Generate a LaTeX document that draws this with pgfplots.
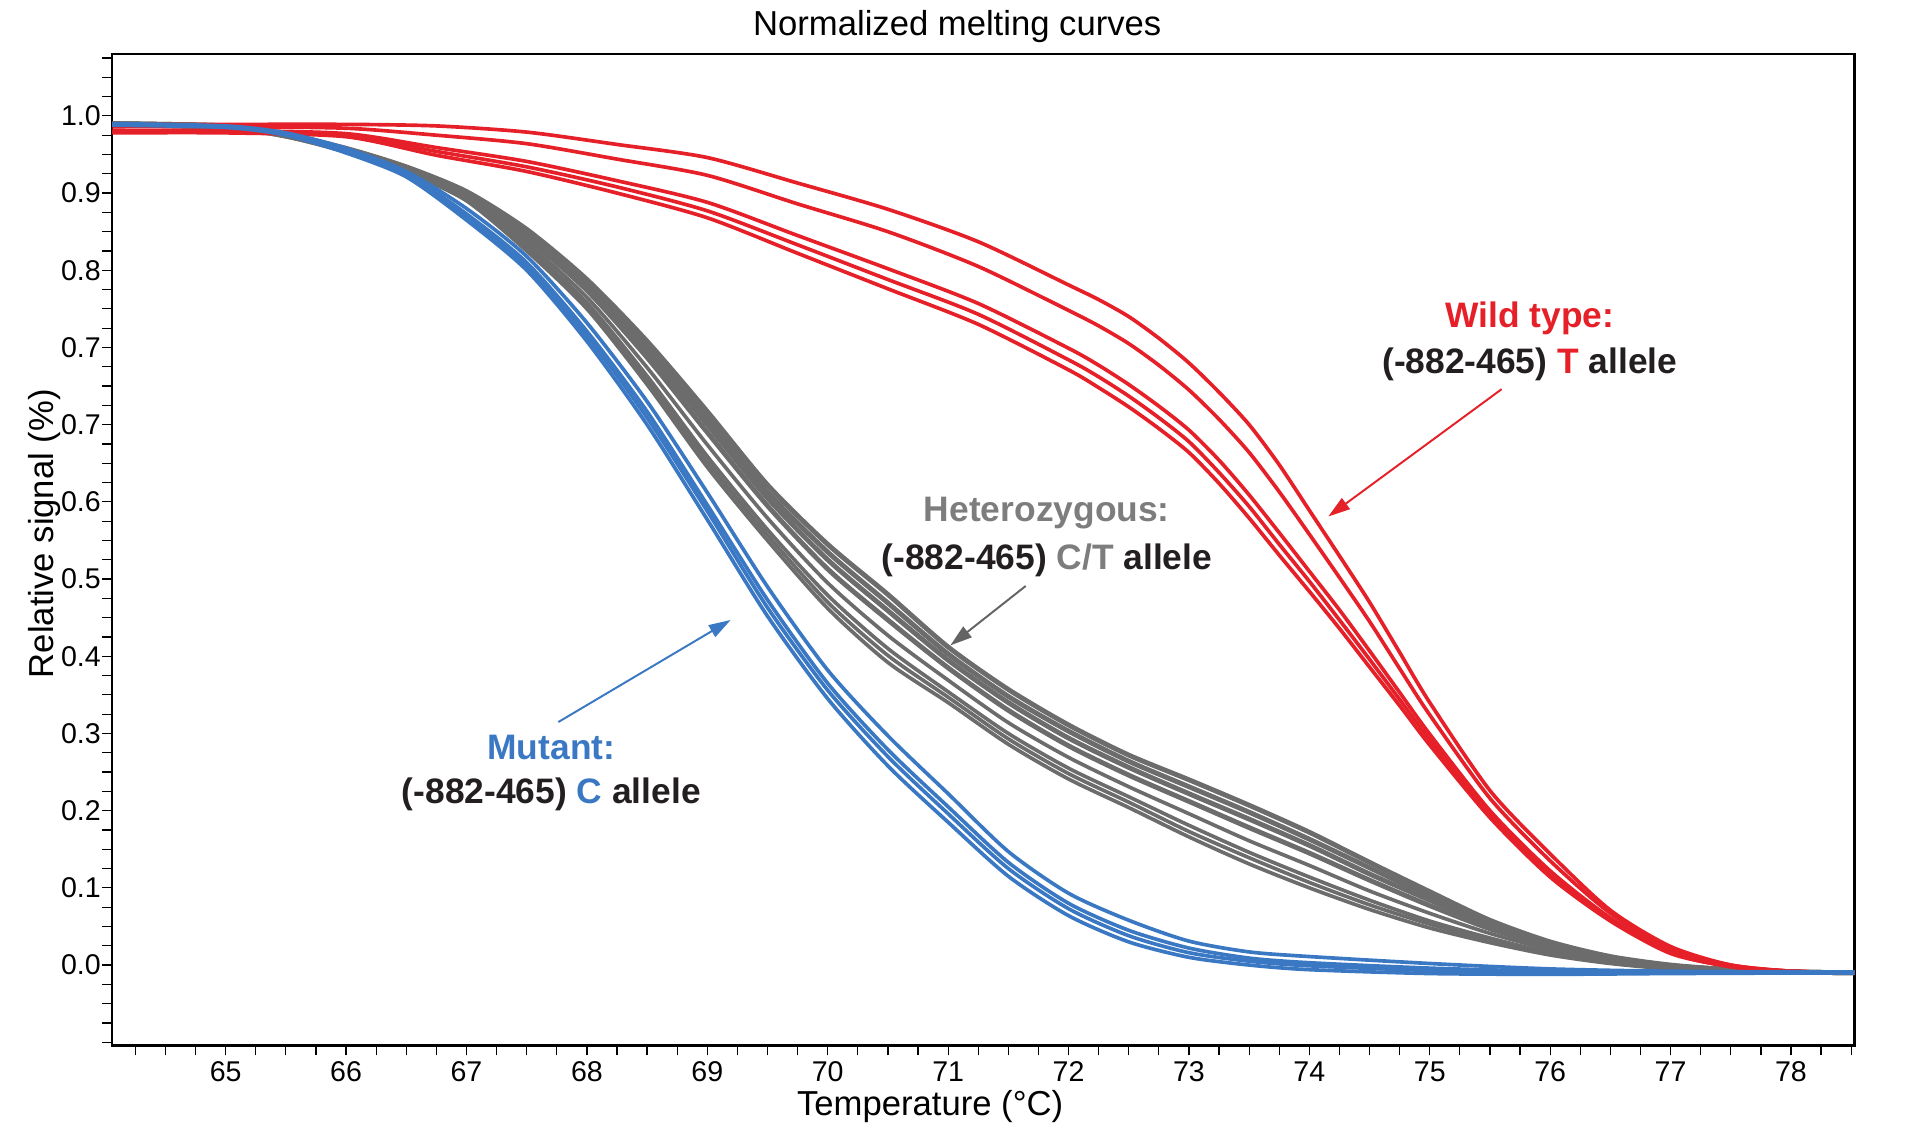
\documentclass[border=0pt]{standalone}
\usepackage{fontspec}
\setmainfont{Liberation Sans}
\usepackage{pgfplots}
\pgfplotsset{compat=1.18}
\usetikzlibrary{arrows.meta}
\definecolor{wtred}{RGB}{230,32,40}
\definecolor{hetgray}{RGB}{108,108,108}
\definecolor{hettext}{RGB}{125,125,125}
\definecolor{hetarrow}{RGB}{100,100,100}
\definecolor{mutblue}{RGB}{58,120,195}
\definecolor{txt}{RGB}{35,31,32}
\pgfplotsset{
  wt/.style={color=wtred, line width=1.5pt, smooth, tension=0.45, no markers, line join=round},
  het/.style={color=hetgray, line width=1.5pt, smooth, tension=0.45, no markers, line join=round},
  hetd/.style={color=hetgray, line width=2pt, smooth, tension=0.45, no markers, line join=round},
  mut/.style={color=mutblue, line width=1.5pt, smooth, tension=0.45, no markers, line join=round},
}
\tikzset{annot/.style={anchor=base, font=\bfseries\fontsize{14.5}{17}\selectfont}}
\begin{document}
\begin{tikzpicture}
\begin{axis}[
  at={(0,0)}, anchor=south west,
  width=714pt, height=406.5pt, scale only axis,
  xmin=64.058, xmax=78.527, ymin=-0.1043, ymax=1.1806,
  xtick={65,66,67,68,69,70,71,72,73,74,75,76,77,78},
  minor xtick={64.25,64.5,...,78.5},
  ytick={0,0.1,0.2,0.3,0.4,0.5,0.6,0.7,0.8,0.9,1.0,1.1},
  yticklabels={0.0,0.1,0.2,0.3,0.4,0.5,0.6,0.7,0.7,0.8,0.9,1.0},
  minor ytick={-0.1,-0.075,...,1.176},
  tick align=outside, tick pos=left,
  major tick length=4pt, minor tick length=4pt,
  every tick/.style={black, line width=0.5pt},
  axis line style={black, line width=0.9pt},
  ticklabel style={font=\fontsize{11.7}{13}\selectfont, text=black},
  /pgf/number format/assume math mode=true,
  xticklabel style={inner ysep=2.5pt},
  yticklabel style={inner xsep=0.5pt},
  clip=true,
]
% ---------- Heterozygous (C/T) ----------
\addplot[hetd] coordinates {(64.06,1.090)(65.0,1.087)(65.5,1.076)(66.0,1.058)(66.5,1.034)(67.0,1.002)(67.5,0.953)(68.0,0.888)(68.5,0.808)(69.0,0.717)(69.5,0.622)(70.0,0.545)(70.5,0.480)(71.0,0.412)(71.5,0.357)(72.0,0.311)(72.5,0.272)(73.0,0.240)(73.5,0.207)(74.0,0.172)(74.5,0.133)(75.0,0.095)(75.5,0.058)(76.0,0.030)(76.5,0.011)(77.0,0.000)(77.5,-0.006)(78.0,-0.009)(78.53,-0.010)};
\addplot[hetd] coordinates {(64.06,1.090)(65.0,1.087)(65.5,1.076)(66.0,1.057)(66.5,1.033)(67.0,1.001)(67.5,0.950)(68.0,0.883)(68.5,0.801)(69.0,0.708)(69.5,0.613)(70.0,0.535)(70.5,0.469)(71.0,0.403)(71.5,0.348)(72.0,0.303)(72.5,0.264)(73.0,0.231)(73.5,0.198)(74.0,0.163)(74.5,0.126)(75.0,0.089)(75.5,0.055)(76.0,0.028)(76.5,0.010)(77.0,-0.001)(77.5,-0.006)(78.0,-0.009)(78.53,-0.010)};
\addplot[hetd] coordinates {(64.06,1.090)(65.0,1.086)(65.5,1.075)(66.0,1.057)(66.5,1.032)(67.0,0.999)(67.5,0.946)(68.0,0.879)(68.5,0.795)(69.0,0.700)(69.5,0.605)(70.0,0.525)(70.5,0.459)(71.0,0.395)(71.5,0.340)(72.0,0.294)(72.5,0.256)(73.0,0.222)(73.5,0.189)(74.0,0.155)(74.5,0.118)(75.0,0.084)(75.5,0.051)(76.0,0.026)(76.5,0.009)(77.0,-0.001)(77.5,-0.006)(78.0,-0.009)(78.53,-0.010)};
\addplot[hetd] coordinates {(64.06,1.089)(65.0,1.086)(65.5,1.075)(66.0,1.056)(66.5,1.031)(67.0,0.997)(67.5,0.942)(68.0,0.874)(68.5,0.787)(69.0,0.690)(69.5,0.595)(70.0,0.513)(70.5,0.447)(71.0,0.385)(71.5,0.330)(72.0,0.284)(72.5,0.246)(73.0,0.212)(73.5,0.178)(74.0,0.145)(74.5,0.110)(75.0,0.077)(75.5,0.047)(76.0,0.024)(76.5,0.008)(77.0,-0.002)(77.5,-0.007)(78.0,-0.009)(78.53,-0.010)};
\addplot[het] coordinates {(64.06,1.089)(65.0,1.085)(65.5,1.074)(66.0,1.055)(66.5,1.030)(67.0,0.995)(67.5,0.936)(68.0,0.865)(68.5,0.774)(69.0,0.674)(69.5,0.579)(70.0,0.495)(70.5,0.427)(71.0,0.369)(71.5,0.314)(72.0,0.269)(72.5,0.231)(73.0,0.196)(73.5,0.161)(74.0,0.129)(74.5,0.096)(75.0,0.067)(75.5,0.041)(76.0,0.020)(76.5,0.006)(77.0,-0.003)(77.5,-0.007)(78.0,-0.010)(78.53,-0.010)};
\addplot[het] coordinates {(64.06,1.088)(65.0,1.085)(65.5,1.074)(66.0,1.054)(66.5,1.028)(67.0,0.992)(67.5,0.931)(68.0,0.858)(68.5,0.763)(69.0,0.659)(69.5,0.564)(70.0,0.479)(70.5,0.410)(71.0,0.354)(71.5,0.300)(72.0,0.255)(72.5,0.218)(73.0,0.181)(73.5,0.146)(74.0,0.114)(74.5,0.084)(75.0,0.057)(75.5,0.035)(76.0,0.016)(76.5,0.004)(77.0,-0.004)(77.5,-0.008)(78.0,-0.010)(78.53,-0.010)};
\addplot[het] coordinates {(64.06,1.088)(65.0,1.084)(65.5,1.073)(66.0,1.054)(66.5,1.028)(67.0,0.991)(67.5,0.928)(68.0,0.854)(68.5,0.758)(69.0,0.652)(69.5,0.557)(70.0,0.470)(70.5,0.401)(71.0,0.347)(71.5,0.293)(72.0,0.248)(72.5,0.211)(73.0,0.173)(73.5,0.139)(74.0,0.107)(74.5,0.078)(75.0,0.053)(75.5,0.032)(76.0,0.015)(76.5,0.003)(77.0,-0.005)(77.5,-0.008)(78.0,-0.010)(78.53,-0.010)};
\addplot[het] coordinates {(64.06,1.088)(65.0,1.084)(65.5,1.073)(66.0,1.053)(66.5,1.027)(67.0,0.990)(67.5,0.925)(68.0,0.850)(68.5,0.752)(69.0,0.645)(69.5,0.550)(70.0,0.462)(70.5,0.392)(71.0,0.340)(71.5,0.286)(72.0,0.241)(72.5,0.204)(73.0,0.166)(73.5,0.131)(74.0,0.100)(74.5,0.072)(75.0,0.048)(75.5,0.029)(76.0,0.013)(76.5,0.002)(77.0,-0.005)(77.5,-0.008)(78.0,-0.010)(78.53,-0.010)};
% ---------- Wild type (T) ----------
\addplot[wt] coordinates {(64.06,1.089)(65.0,1.089)(66.0,1.089)(66.75,1.087)(67.5,1.079)(68.25,1.063)(69.0,1.046)(69.75,1.013)(70.5,0.979)(71.25,0.937)(72.0,0.881)(72.25,0.862)(72.5,0.840)(72.75,0.812)(73.0,0.780)(73.25,0.742)(73.5,0.700)(73.75,0.648)(74.0,0.589)(74.25,0.530)(74.5,0.470)(74.75,0.405)(75.0,0.340)(75.5,0.226)(76.0,0.144)(76.5,0.071)(77.0,0.024)(77.5,0.000)(78.0,-0.008)(78.53,-0.010)};
\addplot[wt] coordinates {(64.06,1.086)(65.0,1.086)(66.0,1.084)(66.75,1.075)(67.5,1.064)(68.25,1.044)(69.0,1.023)(69.75,0.986)(70.5,0.950)(71.25,0.905)(72.0,0.848)(72.25,0.828)(72.5,0.805)(72.75,0.777)(73.0,0.745)(73.25,0.707)(73.5,0.664)(73.75,0.613)(74.0,0.558)(74.25,0.502)(74.5,0.445)(74.75,0.384)(75.0,0.324)(75.5,0.216)(76.0,0.135)(76.5,0.067)(77.0,0.021)(77.5,0.000)(78.0,-0.008)(78.53,-0.010)};
\addplot[wt] coordinates {(64.06,1.081)(65.0,1.081)(66.0,1.077)(66.75,1.059)(67.5,1.041)(68.25,1.016)(69.0,0.988)(69.75,0.945)(70.5,0.902)(71.25,0.857)(72.0,0.799)(72.25,0.777)(72.5,0.752)(72.75,0.724)(73.0,0.693)(73.25,0.654)(73.5,0.609)(73.75,0.560)(74.0,0.510)(74.25,0.460)(74.5,0.407)(74.75,0.353)(75.0,0.299)(75.5,0.200)(76.0,0.122)(76.5,0.061)(77.0,0.017)(77.5,-0.002)(78.0,-0.008)(78.53,-0.010)};
\addplot[wt] coordinates {(64.06,1.079)(65.0,1.079)(66.0,1.075)(66.75,1.054)(67.5,1.034)(68.25,1.008)(69.0,0.977)(69.75,0.933)(70.5,0.888)(71.25,0.843)(72.0,0.784)(72.25,0.762)(72.5,0.737)(72.75,0.709)(73.0,0.678)(73.25,0.638)(73.5,0.594)(73.75,0.545)(74.0,0.497)(74.25,0.447)(74.5,0.396)(74.75,0.344)(75.0,0.292)(75.5,0.195)(76.0,0.118)(76.5,0.060)(77.0,0.016)(77.5,-0.002)(78.0,-0.008)(78.53,-0.010)};
\addplot[wt] coordinates {(64.06,1.078)(65.0,1.078)(66.0,1.073)(66.75,1.049)(67.5,1.028)(68.25,1.000)(69.0,0.968)(69.75,0.922)(70.5,0.876)(71.25,0.830)(72.0,0.771)(72.25,0.748)(72.5,0.723)(72.75,0.695)(73.0,0.664)(73.25,0.624)(73.5,0.579)(73.75,0.531)(74.0,0.484)(74.25,0.436)(74.5,0.386)(74.75,0.336)(75.0,0.285)(75.5,0.191)(76.0,0.114)(76.5,0.057)(77.0,0.015)(77.5,-0.002)(78.0,-0.008)(78.53,-0.010)};
% ---------- Mutant (C) ----------
\addplot[mut] coordinates {(64.06,1.090)(65.0,1.087)(65.5,1.078)(66.0,1.058)(66.5,1.028)(67.0,0.980)(67.5,0.918)(68.0,0.832)(68.5,0.730)(69.0,0.612)(69.5,0.490)(70.0,0.382)(70.5,0.297)(71.0,0.222)(71.5,0.147)(72.0,0.093)(72.5,0.058)(73.0,0.031)(73.5,0.017)(74.0,0.011)(75.0,0.002)(76.0,-0.005)(77.0,-0.008)(78.53,-0.009)};
\addplot[mut] coordinates {(64.06,1.089)(65.0,1.086)(65.5,1.077)(66.0,1.055)(66.5,1.025)(67.0,0.973)(67.5,0.910)(68.0,0.821)(68.5,0.717)(69.0,0.596)(69.5,0.473)(70.0,0.365)(70.5,0.279)(71.0,0.205)(71.5,0.133)(72.0,0.080)(72.5,0.045)(73.0,0.022)(73.5,0.009)(74.0,0.003)(75.0,-0.004)(76.0,-0.008)(77.0,-0.009)(78.53,-0.010)};
\addplot[mut] coordinates {(64.06,1.089)(65.0,1.086)(65.5,1.076)(66.0,1.054)(66.5,1.023)(67.0,0.970)(67.5,0.905)(68.0,0.815)(68.5,0.709)(69.0,0.588)(69.5,0.463)(70.0,0.356)(70.5,0.270)(71.0,0.196)(71.5,0.125)(72.0,0.073)(72.5,0.038)(73.0,0.016)(73.5,0.005)(74.0,-0.001)(75.0,-0.007)(76.0,-0.010)(77.0,-0.010)(78.53,-0.010)};
\addplot[mut] coordinates {(64.06,1.088)(65.0,1.085)(65.5,1.075)(66.0,1.052)(66.5,1.021)(67.0,0.965)(67.5,0.900)(68.0,0.808)(68.5,0.700)(69.0,0.577)(69.5,0.452)(70.0,0.345)(70.5,0.258)(71.0,0.185)(71.5,0.115)(72.0,0.064)(72.5,0.030)(73.0,0.010)(73.5,0.000)(74.0,-0.006)(75.0,-0.011)(76.0,-0.012)(77.0,-0.011)(78.53,-0.010)};
% ---------- annotations ----------
\node[annot, text=wtred] at (axis cs:75.83,0.826) {Wild type:};
\node[annot, text=txt] at (axis cs:75.83,0.766) {(-882-465) \textcolor{wtred}{T} allele};
\draw[wtred, line width=0.8pt, -{Triangle[length=9pt,width=5.5pt]}] (axis cs:75.597,0.746) -- (axis cs:74.157,0.581);
\node[annot, text=hettext] at (axis cs:71.82,0.5745) {Heterozygous:};
\node[annot, text=txt] at (axis cs:71.82,0.513) {(-882-465) \textcolor{hettext}{C/T} allele};
\draw[hetarrow, line width=0.8pt, -{Triangle[length=9pt,width=5.5pt]}] (axis cs:71.644,0.491) -- (axis cs:71.018,0.414);
\node[annot, text=mutblue] at (axis cs:67.705,0.266) {Mutant:};
\node[annot, text=txt] at (axis cs:67.705,0.209) {(-882-465) \textcolor{mutblue}{C} allele};
\draw[mutblue, line width=0.8pt, -{Triangle[length=9pt,width=5.5pt]}] (axis cs:67.763,0.3148) -- (axis cs:69.194,0.447);
\end{axis}
\node[anchor=base, font=\fontsize{14.2}{16}\selectfont] at (346.3pt,414pt) {Normalized melting curves};
\node[anchor=base, font=\fontsize{14.2}{16}\selectfont] at (335.2pt,-28.5pt) {Temperature (°C)};
\node[anchor=base, rotate=90, font=\fontsize{14.2}{16}\selectfont] at (-24pt,209.8pt) {Relative signal (\%)};
\pgfresetboundingbox
\useasboundingbox (-46pt,-37pt) rectangle (738pt,428.5pt);
\end{tikzpicture}
\end{document}
